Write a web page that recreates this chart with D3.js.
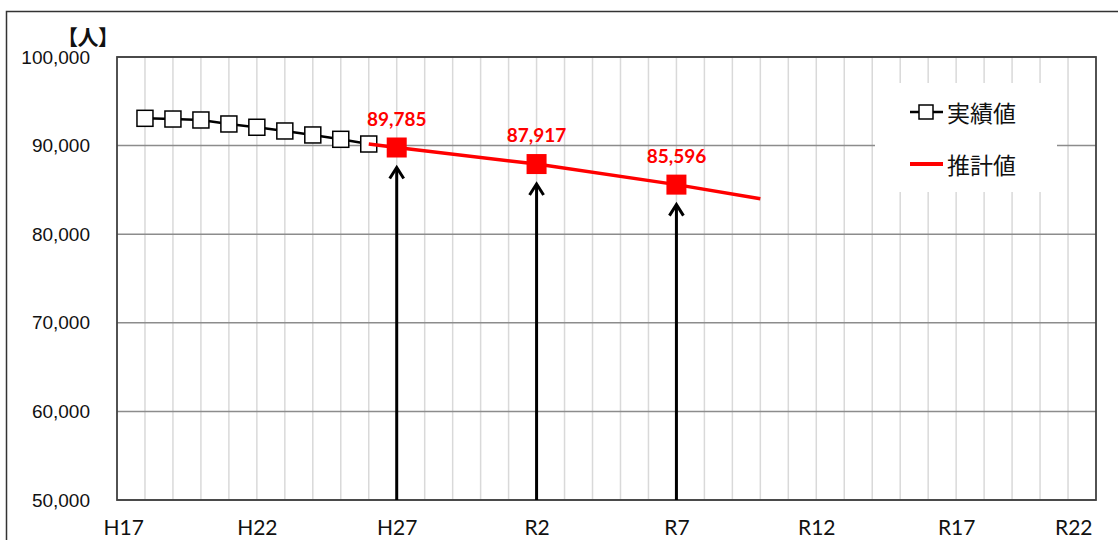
<!DOCTYPE html>
<html>
<head>
<meta charset="utf-8">
<script src="https://cdn.jsdelivr.net/npm/d3@7"></script>
<style>
  body { margin: 0; background: #fff; }
  svg { display: block; }
</style>
</head>
<body>
<div id="main"></div>
<script>
const ctx = {
    w: 1118,
    h: 540,
    left: 117,
    right: 1096,
    top: 57,
    bottom: 500,
};

// category axis: H17 .. R22, one gridline per year
const tickYears = [2005, 2010, 2015, 2020, 2025, 2030, 2035, 2040];
const tickLabels = ["H17", "H22", "H27", "R2", "R7", "R12", "R17", "R22"];
const yTicks = [50000, 60000, 70000, 80000, 90000, 100000];

// 実績値 (H18 .. H26)
const actualYears = [2006, 2007, 2008, 2009, 2010, 2011, 2012, 2013, 2014];
const actualValues = [93080, 93000, 92890, 92440, 92070, 91650, 91200, 90710, 90180];

// 推計値
const projYears = [2014, 2015, 2020, 2025, 2028];
const projValues = [90180, 89785, 87917, 85596, 84000];

// highlighted points with labels + arrows
const markYears = [2015, 2020, 2025];
const markValues = [89785, 87917, 85596];

const legendNames = ["実績値", "推計値"];
const unitLabel = "【人】";

function createViz() {
    const svg = d3.select("#main").append("svg")
        .attr("width", ctx.w)
        .attr("height", ctx.h);

    const x = d3.scaleLinear().domain([2005, 2040]).range([ctx.left, ctx.right]);
    const y = d3.scaleLinear().domain([50000, 100000]).range([ctx.bottom, ctx.top]);

    // outer chart border (only top/left are in view)
    svg.append("rect")
        .attr("x", 6.5).attr("y", 11.5)
        .attr("width", 1300).attr("height", 700)
        .attr("fill", "none")
        .attr("stroke", "#333").attr("stroke-width", 1.5);

    // vertical gridlines every year
    svg.append("g").selectAll("line")
        .data(x.ticks(35).filter(t => t > 2005 && t < 2040))
        .enter().append("line")
        .attr("x1", d => x(d)).attr("x2", d => x(d))
        .attr("y1", ctx.top).attr("y2", ctx.bottom)
        .attr("stroke", "#d9d9d9").attr("stroke-width", 1.5);

    // horizontal gridlines
    svg.append("g").selectAll("line")
        .data(yTicks)
        .enter().append("line")
        .attr("x1", ctx.left).attr("x2", ctx.right)
        .attr("y1", d => y(d)).attr("y2", d => y(d))
        .attr("stroke", "#8c8c8c").attr("stroke-width", 1.5);

    // legend background hides the grid
    const legend = svg.append("g");
    legend.append("rect")
        .attr("x", 875).attr("y", 83)
        .attr("width", 182).attr("height", 109)
        .attr("fill", "#fff");

    // plot border
    svg.append("rect")
        .attr("x", ctx.left).attr("y", ctx.top)
        .attr("width", ctx.right - ctx.left).attr("height", ctx.bottom - ctx.top)
        .attr("fill", "none")
        .attr("stroke", "#404040").attr("stroke-width", 1.8);

    // arrows from the axis up to the highlighted points
    const arrows = svg.append("g").attr("stroke", "#000").attr("fill", "none");
    markYears.forEach((yr, i) => {
        const ax = x(yr), tip = y(markValues[i]) + 20;
        arrows.append("line")
            .attr("x1", ax).attr("x2", ax)
            .attr("y1", ctx.bottom).attr("y2", tip + 1)
            .attr("stroke-width", 3);
        arrows.append("polyline")
            .attr("points", `${ax - 7},${tip + 11} ${ax},${tip} ${ax + 7},${tip + 11}`)
            .attr("stroke-width", 3)
            .attr("stroke-linejoin", "miter");
    });

    const line = d3.line().x(d => x(d[0])).y(d => y(d[1]));

    // actual series
    const actual = d3.zip(actualYears, actualValues);
    svg.append("path")
        .datum(actual)
        .attr("d", line)
        .attr("fill", "none")
        .attr("stroke", "#000").attr("stroke-width", 2.5);
    svg.append("g").selectAll("rect")
        .data(actual)
        .enter().append("rect")
        .attr("x", d => x(d[0]) - 8).attr("y", d => y(d[1]) - 8)
        .attr("width", 16).attr("height", 16)
        .attr("fill", "#fff")
        .attr("stroke", "#000").attr("stroke-width", 1.5);

    // projection series
    svg.append("path")
        .datum(d3.zip(projYears, projValues))
        .attr("d", line)
        .attr("fill", "none")
        .attr("stroke", "#ff0000").attr("stroke-width", 3.5);
    const marks = d3.zip(markYears, markValues);
    svg.append("g").selectAll("rect")
        .data(marks)
        .enter().append("rect")
        .attr("x", d => x(d[0]) - 10).attr("y", d => y(d[1]) - 10)
        .attr("width", 20).attr("height", 20)
        .attr("fill", "#ff0000");
    svg.append("g").selectAll("text")
        .data(marks)
        .enter().append("text")
        .attr("x", d => x(d[0]))
        .attr("y", d => y(d[1]) - 22)
        .attr("text-anchor", "middle")
        .attr("font-family", "Lato, 'Open Sans', sans-serif")
        .attr("font-weight", "bold")
        .attr("font-size", 19)
        .attr("fill", "#ff0000")
        .text(d => d3.format(",")(d[1]));

    // y axis labels
    const yAxis = svg.append("g")
        .attr("transform", `translate(${ctx.left},0)`)
        .call(d3.axisLeft(y).tickValues(yTicks).tickFormat(d3.format(",")).tickSize(0).tickPadding(27));
    yAxis.select(".domain").remove();
    yAxis.selectAll("text")
        .attr("font-family", "'Liberation Sans', Arial, sans-serif")
        .attr("font-size", 19)
        .attr("fill", "#111");

    // x axis labels (end labels are pulled inside the chart)
    const xAxis = svg.append("g")
        .attr("transform", `translate(0,${ctx.bottom})`)
        .call(d3.axisBottom(x).tickValues(tickYears).tickFormat((d, i) => tickLabels[i]).tickSize(0));
    xAxis.select(".domain").remove();
    xAxis.selectAll("text")
        .attr("y", 35).attr("dy", 0)
        .attr("font-family", "Lato, 'Open Sans', sans-serif")
        .attr("font-size", 21)
        .attr("fill", "#111")
        .each(function(d) {
            const half = this.getComputedTextLength() / 2;
            const cx = x(d);
            const shift = Math.max(103 - (cx - half), 0) + Math.min(1092 - (cx + half), 0);
            d3.select(this).attr("x", shift);
        });

    // unit label
    svg.append("text")
        .attr("x", 67).attr("y", 45)
        .attr("font-family", "'Noto Sans CJK JP', sans-serif")
        .attr("font-weight", "bold")
        .attr("font-size", 21)
        .style("font-feature-settings", "'palt'")
        .attr("fill", "#111")
        .text(unitLabel);

    // legend entries
    const lx = 910, ly = [112, 164];
    legend.append("line")
        .attr("x1", lx).attr("x2", lx + 33)
        .attr("y1", ly[0]).attr("y2", ly[0])
        .attr("stroke", "#000").attr("stroke-width", 2.5);
    legend.append("rect")
        .attr("x", lx + 9).attr("y", ly[0] - 7)
        .attr("width", 14).attr("height", 14)
        .attr("fill", "#fff").attr("stroke", "#000").attr("stroke-width", 1.5);
    legend.append("line")
        .attr("x1", lx).attr("x2", lx + 33)
        .attr("y1", ly[1]).attr("y2", ly[1])
        .attr("stroke", "#ff0000").attr("stroke-width", 4);
    legend.selectAll("text")
        .data(legendNames)
        .enter().append("text")
        .attr("x", 947)
        .attr("y", (d, i) => ly[i])
        .attr("dominant-baseline", "central")
        .attr("font-family", "'Noto Sans CJK JP', sans-serif")
        .attr("font-size", 23)
        .attr("fill", "#111")
        .text(d => d);
}

createViz();
</script>
</body>
</html>
